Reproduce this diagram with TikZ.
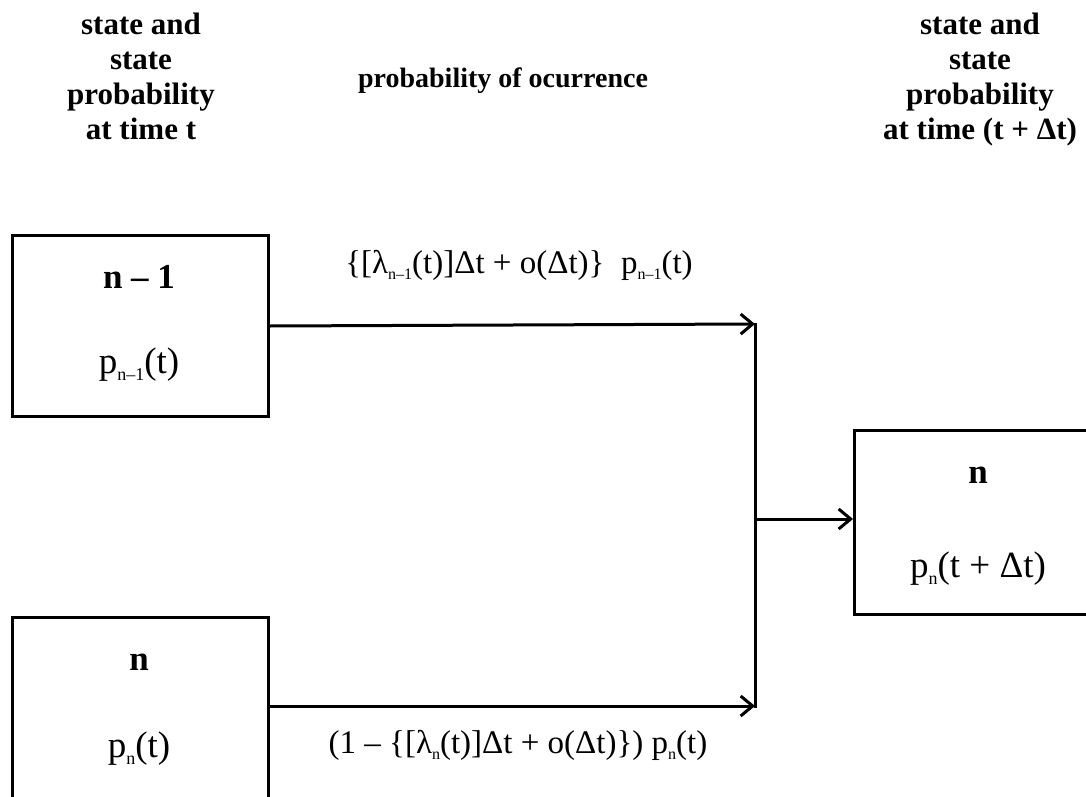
\documentclass[tikz,border=0pt]{standalone}
\usepackage{fontspec}
\setmainfont{Liberation Serif}
\usetikzlibrary{arrows.meta}
\newcommand\subtxt[1]{\raisebox{-0.2em}{\fontsize{16}{16}\selectfont #1}}
\newcommand\subbig[1]{\raisebox{-0.2em}{\fontsize{18}{18}\selectfont #1}}
\tikzset{
  statebox/.style={draw, line width=3pt, minimum width=256pt, minimum height=181pt, inner sep=0pt, anchor=north west},
  hdr/.style={font=\fontsize{31}{35}\selectfont\bfseries, align=center, anchor=north, inner sep=0pt},
  ttl/.style={font=\fontsize{35}{40}\selectfont\bfseries, anchor=base, inner sep=0pt},
  val/.style={font=\fontsize{37}{42}\selectfont, anchor=base, inner sep=0pt},
  lbl/.style={font=\fontsize{33}{40}\selectfont, anchor=base, inner sep=0pt},
  conn/.style={line width=3pt},
  arr/.style={line width=3pt, -{Straight Barb[length=12pt,width=20pt,line width=3pt]}}
}
\begin{document}
\begin{tikzpicture}[x=1pt,y=-1pt]
\useasboundingbox (0,0) rectangle (1086,797);
% headers
\node[hdr] (hleft) at (141,13) {state and\\state\\probability\\at time t};
\node[hdr, font=\fontsize{28}{35}\selectfont\bfseries, anchor=base] (hmid) at (503,88) {probability of ocurrence};
\node[hdr] (hright) at (980,13) {state and\\state\\probability\\at time (t + Δt)};
% boxes
\node[statebox] (b1) at (11,234) {};
\node[statebox, minimum height=200pt] (b2) at (11,616) {};
\node[statebox, minimum width=250pt, minimum height=184pt] (b3) at (853,429) {};
% box texts
\node[ttl] (t1) at (139,288) {n – 1};
\node[val] (v1) at (139,373) {p\subbig{n–1}(t)};
\node[ttl] (t2) at (139,670) {n};
\node[val] (v2) at (139,757) {p\subbig{n}(t)};
\node[ttl] (t3) at (978,483) {n};
\node[val] (v3) at (978,577) {p\subbig{n}(t + Δt)};
% junction
\coordinate (jt) at (755,324);
\coordinate (jm) at (755,519);
\coordinate (jb) at (755,706);
\draw[conn] ([yshift=1.5pt]jt) -- ([yshift=-1.5pt]jb);
\draw[arr] (b1.east) -- (jt);
\draw[arr] (b2.east |- jb) -- (jb);
\draw[arr] (jm) -- (jm -| b3.west);
% labels
\node[lbl] (l1) at (519,273) {\{[λ\subtxt{n–1}(t)]Δt + o(Δt)\}\ \ p\subtxt{n–1}(t)};
\node[lbl] (l2) at (518,753) {(1 – \{[λ\subtxt{n}(t)]Δt + o(Δt)\}) p\subtxt{n}(t)};
\end{tikzpicture}
\end{document}
